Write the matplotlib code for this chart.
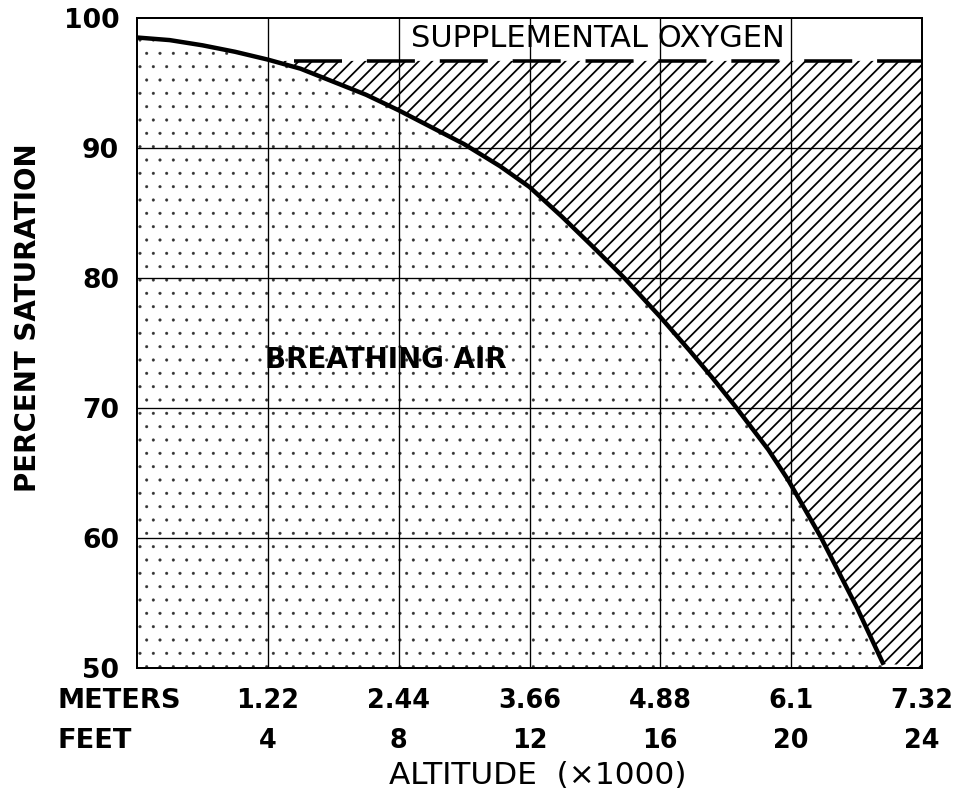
import numpy as np
import matplotlib
matplotlib.use('Agg')
import matplotlib.pyplot as plt

# ===== data =====
altitude_kft = [0, 1, 2, 3, 4, 5, 6, 7, 8, 9, 10, 11.1, 12, 13, 13.9, 14.9, 16, 16.9,
                17.6, 18.3, 19.3, 19.9, 20.9, 22.0, 22.8]
saturation = [98.5, 98.3, 97.9, 97.4, 96.8, 96.1, 95.1, 94.1, 92.9, 91.6, 90.3, 88.6, 87.0,
              84.7, 82.5, 80.0, 77.0, 74.4, 72.3, 70.1, 66.8, 64.5, 60.1, 54.7, 50.4]

oxygen_level = 96.7          # dashed "supplemental oxygen" line
oxygen_start = 4.8

feet_ticks = [4, 8, 12, 16, 20, 24]
meters_labels = ['1.22', '2.44', '3.66', '4.88', '6.1', '7.32']
sat_ticks = [50, 60, 70, 80, 90, 100]

plt.rcParams['font.family'] = 'DejaVu Sans'

fig = plt.figure(figsize=(12, 9.9), dpi=80)
ax = fig.add_axes([137 / 960, 1 - 668 / 792, (922 - 137) / 960, (668 - 18) / 792])

alt = np.array(altitude_kft)
sat = np.array(saturation)

# stippled region under the curve
plt.rcParams['hatch.linewidth'] = 0.3
ax.fill_between(alt, sat, 50, facecolor='white', edgecolor='#333333',
                hatch='.', linewidth=0, zorder=1)

# hatched region between curve and oxygen line
plt.rcParams['hatch.linewidth'] = 1.6
alt_ext = np.r_[alt, 24]
sat_ext = np.r_[sat, 50]
ax.fill_between(alt_ext, sat_ext, oxygen_level, where=sat_ext <= oxygen_level,
                interpolate=True, facecolor='white', edgecolor='black',
                hatch='//', linewidth=0, zorder=1)

# grid
for x in feet_ticks[:-1]:
    ax.axvline(x, color='black', lw=1.2, zorder=2)
for y in sat_ticks[1:-1]:
    ax.axhline(y, color='black', lw=1.2, zorder=2)

# oxygen dashed line and the curve
ax.plot([oxygen_start, 24], [oxygen_level, oxygen_level], color='black',
        lw=3.2, linestyle=(0, (13.5, 7.0)), zorder=3, solid_capstyle='butt')
ax.plot(alt, sat, color='black', lw=4, zorder=4, solid_joinstyle='round')

ax.set_xlim(0, 24)
ax.set_ylim(50, 100)

for s in ax.spines.values():
    s.set_linewidth(1.8)
    s.set_zorder(5)

ax.set_yticks(sat_ticks)
ax.set_yticklabels([str(v) for v in sat_ticks], fontsize=24, fontweight='bold')
ax.set_xticks(feet_ticks)
ax.set_xticklabels([f'{m}\n{f}' for m, f in zip(meters_labels, feet_ticks)],
                   fontsize=23, fontweight='bold', linespacing=1.7)
ax.tick_params(axis='both', length=0)
ax.tick_params(axis='y', pad=16)
ax.tick_params(axis='x', pad=18)

# annotations
ax.text(8.37, 98.45, 'SUPPLEMENTAL OXYGEN', fontsize=27.5, ha='left', va='center', zorder=6)
ax.text(3.92, 73.7, 'BREATHING AIR', fontsize=25, fontweight='bold', ha='left', va='center', zorder=6)

fig.text(57 / 960, 1 - 701 / 792, 'METERS', fontsize=24.5, fontweight='bold', ha='left', va='center')
fig.text(57 / 960, 1 - 741 / 792, 'FEET', fontsize=24.5, fontweight='bold', ha='left', va='center')
fig.text(538 / 960, 1 - 775 / 792, 'ALTITUDE  (\u00d71000)', fontsize=28, ha='center', va='center')
fig.text(28 / 960, 1 - 318 / 792, 'PERCENT SATURATION', fontsize=25, fontweight='bold',
         rotation=90, ha='center', va='center')

fig.savefig('out.png', dpi=80, facecolor='white')
